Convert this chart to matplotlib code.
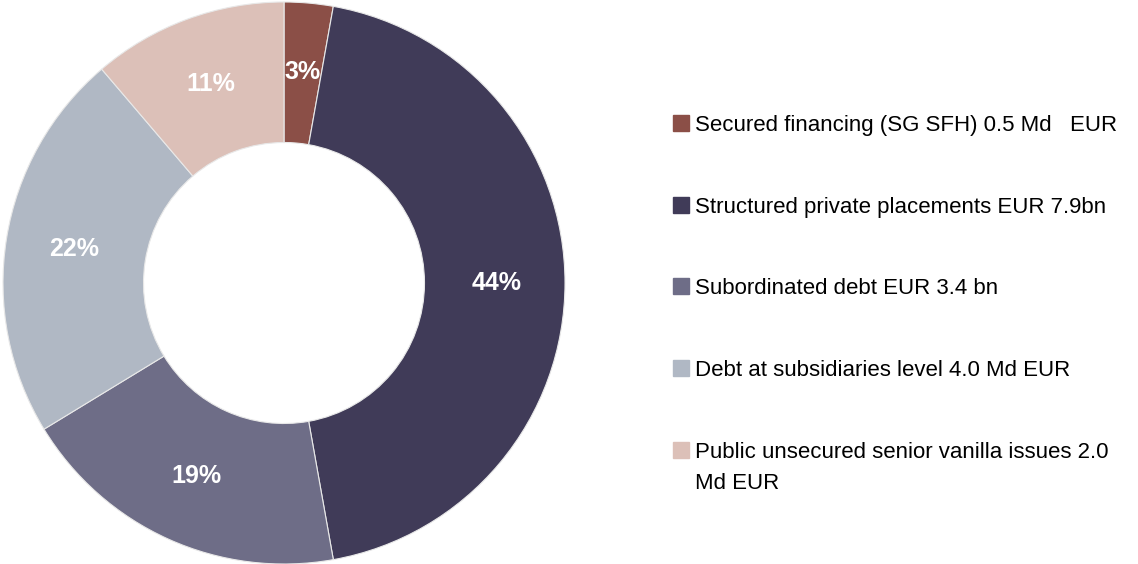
import matplotlib.pyplot as plt
from matplotlib.patches import Rectangle

# Debt breakdown (EUR bn)
labels = [
    'Secured financing (SG SFH) 0.5 Md   EUR',
    'Structured private placements EUR 7.9bn',
    'Subordinated debt EUR 3.4 bn',
    'Debt at subsidiaries level 4.0 Md EUR',
    'Public unsecured senior vanilla issues 2.0\nMd EUR',
]
values = [0.5, 7.9, 3.4, 4.0, 2.0]
colors = ['#8B4F47', '#403B58', '#6E6D87', '#B0B8C4', '#DCC0B8']

fig = plt.figure(figsize=(11.38, 5.64), dpi=100)
ax = fig.add_axes([3 / 1138, 0, 562 / 1138, 562 / 564])

wedges, texts, autotexts = ax.pie(
    values, colors=colors, startangle=90, counterclock=False,
    autopct=lambda p: '%d%%' % round(p), pctdistance=0.755,
    wedgeprops=dict(width=0.5, edgecolor='#e8e8e8', linewidth=0.8),
    textprops=dict(color='white', fontsize=18, fontweight='bold',
                   family=['Liberation Sans', 'DejaVu Sans']))
ax.set_xlim(-1, 1)
ax.set_ylim(-1, 1)
ax.set_aspect('equal')
ax.axis('off')

# legend drawn by hand so the square lines up with the first text line
leg_y = [123, 205, 286, 368, 450]
for lab, col, y in zip(labels, colors, leg_y):
    fy = 1 - y / 564
    fig.patches.append(Rectangle((673 / 1138, fy - 8 / 564), 16 / 1138, 16 / 564,
                                 color=col, transform=fig.transFigure))
    for i, line in enumerate(lab.split('\n')):
        fig.text(695 / 1138, fy - (8 + 31 * i) / 564, line, fontsize=16,
                 color='black', family=['Liberation Sans', 'DejaVu Sans'],
                 va='baseline', ha='left')

fig.savefig('out.png', dpi=100)
